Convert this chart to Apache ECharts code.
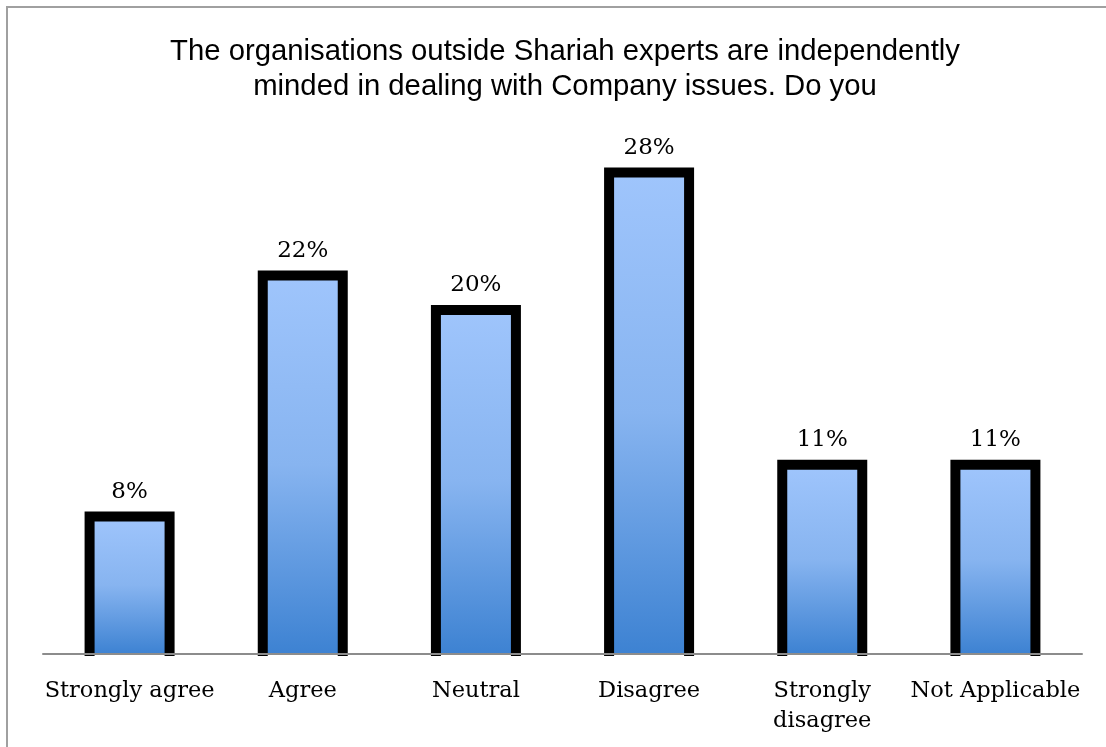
<!DOCTYPE html>
<html>
<head>
<meta charset="utf-8">
<style>
  html, body { margin: 0; padding: 0; background: #ffffff; }
  #chart { width: 1106px; height: 747px; }
</style>
<script src="https://cdn.jsdelivr.net/npm/echarts@6/dist/echarts.min.js"></script>
</head>
<body>
<div id="chart"></div>
<script>
// Survey answers and the share of respondents (percent) for each
const categories = ['Strongly agree', 'Agree', 'Neutral', 'Disagree', 'Strongly\ndisagree', 'Not Applicable'];
const shares = [8, 22, 20, 28, 11, 11];
const titleText = 'The organisations outside Shariah experts are independently\nminded in dealing with Company issues. Do you';

const BAR_W = 80;      // bar body width in px
const OUTLINE = 10;    // black outline, centred on the bar edge
const SERIF = 'DejaVu Serif, serif';

const chart = echarts.init(document.getElementById('chart'), null, { renderer: 'canvas' });

function barFill() {
  return new echarts.graphic.LinearGradient(0, 0, 0, 1, [
    { offset: 0, color: '#9fc5fc' },
    { offset: 0.5, color: '#87b4f0' },
    { offset: 1, color: '#3d82d2' }
  ]);
}

// Bar with an outline on the left, top and right sides (the base sits on the axis)
function renderBar(params, api) {
  const idx = api.value(0);
  const val = api.value(1);
  const top = api.coord([idx, val]);
  const base = api.coord([idx, 0]);
  const x0 = top[0] - BAR_W / 2;
  const x1 = top[0] + BAR_W / 2;
  const h = OUTLINE / 2;
  return {
    type: 'group',
    children: [
      {
        type: 'rect',
        shape: { x: x0, y: top[1], width: BAR_W, height: base[1] - top[1] },
        style: { fill: barFill() }
      },
      {
        type: 'polyline',
        shape: { points: [[x0, base[1] + 2], [x0, top[1]], [x1, top[1]], [x1, base[1] + 2]] },
        style: { fill: null, stroke: '#000000', lineWidth: OUTLINE, lineJoin: 'miter', lineCap: 'butt' }
      },
      {
        type: 'text',
        x: top[0],
        y: top[1] - h - 8,
        style: {
          text: val + '%',
          fontFamily: SERIF,
          fontSize: 23,
          fill: '#000000',
          align: 'center',
          verticalAlign: 'bottom'
        }
      }
    ]
  };
}

chart.setOption({
  animation: false,
  backgroundColor: '#ffffff',
  graphic: [{
    type: 'rect',
    shape: { x: 7, y: 7, width: 1200, height: 800 },
    style: { fill: 'none', stroke: '#a0a0a0', lineWidth: 2 },
    silent: true,
    z: 0
  }],
  title: {
    text: titleText,
    left: 560,
    textAlign: 'center',
    top: 29,
    textStyle: {
      fontFamily: 'Liberation Sans, Arial, sans-serif',
      fontSize: 29.3,
      fontWeight: 'normal',
      color: '#000000',
      lineHeight: 35
    }
  },
  grid: { left: 43, right: 24, top: 138, bottom: 93 },
  xAxis: {
    type: 'category',
    data: categories,
    z: 5,
    axisLine: { lineStyle: { color: '#8c8c8c', width: 2 } },
    axisTick: { show: false },
    axisLabel: {
      interval: 0,
      margin: 22,
      fontFamily: SERIF,
      fontSize: 22.5,
      lineHeight: 30,
      color: '#000000'
    }
  },
  yAxis: {
    type: 'value',
    min: 0, max: 30,
    show: false,
    splitLine: { show: false }
  },
  series: [{
    type: 'custom',
    renderItem: renderBar,
    clip: false,
    encode: { x: 0, y: 1 },
    data: shares.map((v, i) => [i, v]),
    z: 2
  }]
});
</script>
</body>
</html>
